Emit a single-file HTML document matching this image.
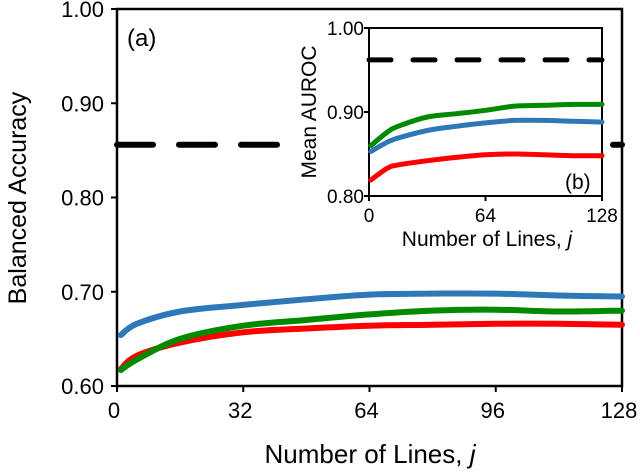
<!DOCTYPE html>
<html><head><meta charset="utf-8"><style>
body{margin:0;background:#fff;}
svg text{font-family:"Liberation Sans",sans-serif;fill:#000;}
</style></head><body>
<svg id="c" width="640" height="470" xmlns="http://www.w3.org/2000/svg"></svg>
<script>
const mainJ=[1,5,16,32,48,64,80,96,112,128];
const mainBlue=[0.654,0.666,0.679,0.686,0.692,0.697,0.698,0.698,0.696,0.695];
const mainGreen=[0.617,0.628,0.650,0.664,0.670,0.676,0.680,0.681,0.679,0.680];
const mainRed=[0.618,0.632,0.646,0.657,0.661,0.664,0.665,0.666,0.666,0.665];
const mainBaseline=0.856;
const mainXTicks=[0,32,64,96,128];
const mainYTicks=[0.60,0.70,0.80,0.90,1.00];
const insJ=[1,10,16,32,48,64,80,96,112,128];
const insBlue=[0.853,0.864,0.869,0.878,0.883,0.887,0.890,0.890,0.889,0.888];
const insGreen=[0.860,0.876,0.883,0.894,0.898,0.902,0.907,0.908,0.909,0.909];
const insRed=[0.819,0.833,0.837,0.842,0.846,0.849,0.850,0.849,0.848,0.848];
const insBaseline=0.962;
const insXTicks=[0,64,128];
const insYTicks=[0.80,0.90,1.00];

const svg=document.getElementById('c');
const NS='http://www.w3.org/2000/svg';
function mk(t,a,txt){const e=document.createElementNS(NS,t);for(const k in a)e.setAttribute(k,a[k]);if(txt!=null)e.textContent=txt;svg.appendChild(e);return e;}
const mx=j=>117+j*(622-117)/128, my=v=>386-(v-0.6)*(386-9)/0.4;
let e;
e=mk('rect',{x:117,y:9,width:505,height:377,fill:'none',stroke:'#000','stroke-width':2.5});

e=mk('line',{x1:117,x2:622,y1:my(mainBaseline),y2:my(mainBaseline),stroke:'#000','stroke-width':6,'stroke-dasharray':'36,26','stroke-linecap':'round'});

mainYTicks.forEach(v=>{mk('line',{x1:111,x2:117,y1:my(v),y2:my(v),stroke:'#000','stroke-width':2});
 e=mk('text',{x:104,y:my(v)+8,'font-size':22,'text-anchor':'end'},v.toFixed(2));});
mainXTicks.forEach(v=>{mk('line',{x1:mx(v),x2:mx(v),y1:386,y2:392,stroke:'#000','stroke-width':2});
 e=mk('text',{x:mx(v)-3,y:418,'font-size':22,'text-anchor':'middle'},v);});
function path(J,V,fx,fy,col,w,name){
 const P=J.map((j,i)=>[fx(j),fy(V[i])]);
 let d='M'+P[0][0].toFixed(1)+','+P[0][1].toFixed(1);
 for(let i=0;i<P.length-1;i++){const p0=P[Math.max(i-1,0)],p1=P[i],p2=P[i+1],p3=P[Math.min(i+2,P.length-1)];
  const c1=[p1[0]+(p2[0]-p0[0])/6,p1[1]+(p2[1]-p0[1])/6],c2=[p2[0]-(p3[0]-p1[0])/6,p2[1]-(p3[1]-p1[1])/6];
  d+='C'+c1.map(n=>n.toFixed(1)).join(',')+' '+c2.map(n=>n.toFixed(1)).join(',')+' '+p2[0].toFixed(1)+','+p2[1].toFixed(1);}
 const p=mk('path',{d:d,fill:'none',stroke:col,'stroke-width':w,'stroke-linejoin':'round','stroke-linecap':'round'});
 }
path(mainJ,mainRed,mx,my,'#ff0000',6,'main-red-series');
path(mainJ,mainGreen,mx,my,'#008a00',6,'main-green-series');
path(mainJ,mainBlue,mx,my,'#2e78b8',6,'main-blue-series');
e=mk('text',{x:127,y:46,'font-size':24},'(a)');
e=mk('text',{x:0,y:0,'font-size':25,'text-anchor':'middle',transform:'translate(26,198) rotate(-90)'},'Balanced Accuracy');
e=mk('text',{x:370,y:463,'font-size':26,'text-anchor':'middle'});e.innerHTML='Number of Lines, <tspan font-style="italic">j</tspan>';
// inset
e=mk('rect',{x:286,y:11,width:317,height:240,fill:'#fff'});
const ix=j=>369+j*(602-369)/128, iy=v=>196-(v-0.8)*(196-28)/0.2;
e=mk('rect',{x:369,y:28,width:233,height:168,fill:'none',stroke:'#000','stroke-width':2});
e=mk('line',{x1:369,x2:602,y1:iy(insBaseline),y2:iy(insBaseline),stroke:'#000','stroke-width':5,'stroke-dasharray':'22,22','stroke-linecap':'round'});
insYTicks.forEach(v=>{mk('line',{x1:364,x2:369,y1:iy(v),y2:iy(v),stroke:'#000','stroke-width':2});
 e=mk('text',{x:364,y:iy(v)+7,'font-size':19,'text-anchor':'end'},v.toFixed(2));});
insXTicks.forEach(v=>{mk('line',{x1:ix(v),x2:ix(v),y1:196,y2:201,stroke:'#000','stroke-width':2});
 e=mk('text',{x:ix(v),y:222,'font-size':19,'text-anchor':'middle'},v);});
path(insJ,insRed,ix,iy,'#ff0000',5,'inset-red-series');
path(insJ,insBlue,ix,iy,'#2e78b8',5,'inset-blue-series');
path(insJ,insGreen,ix,iy,'#008a00',5,'inset-green-series');
e=mk('text',{x:565,y:189,'font-size':21},'(b)');
e=mk('text',{x:0,y:0,'font-size':21,'text-anchor':'middle',transform:'translate(316,112) rotate(-90)'},'Mean AUROC');
e=mk('text',{x:487,y:246,'font-size':21,'text-anchor':'middle'});e.innerHTML='Number of Lines, <tspan font-style="italic">j</tspan>';
</script>
</body></html>
